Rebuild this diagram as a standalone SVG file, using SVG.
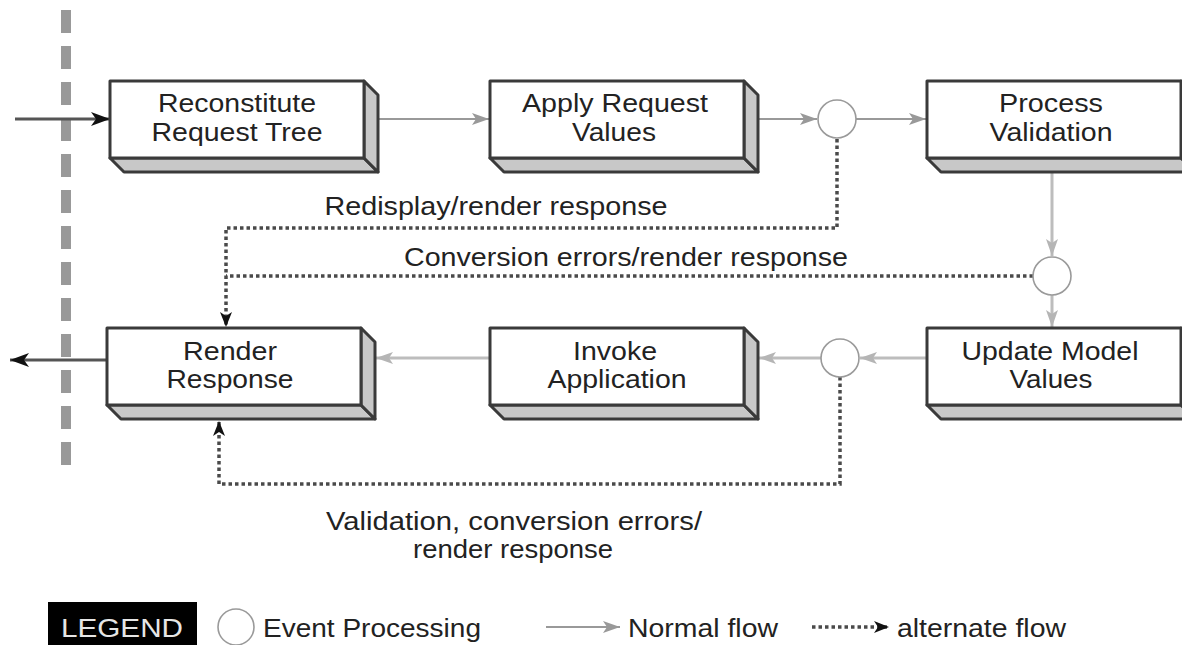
<svg xmlns="http://www.w3.org/2000/svg" width="1182" height="645" viewBox="0 0 1182 645">
<defs>
<style>
text{font-family:"Liberation Sans",Arial,Helvetica,sans-serif;font-size:25px;fill:#222}
.front{fill:#fff;stroke:#3a3a3a;stroke-width:3;stroke-linejoin:round}
.side{fill:#c8c8c8;stroke:#3a3a3a;stroke-width:3;stroke-linejoin:round}
.n1{stroke:#999;stroke-width:2;fill:none}
.n2{stroke:#bdbdbd;stroke-width:3;fill:none}
.dk{stroke:#555;stroke-width:3;fill:none}
.dot{stroke:#4a4a4a;stroke-width:3.5;stroke-dasharray:3.5 3;fill:none}
.ev{fill:#fff;stroke:#9a9a9a;stroke-width:1.6}
</style>
<marker id="ag" markerUnits="userSpaceOnUse" markerWidth="18" markerHeight="12" refX="17" refY="6" orient="auto"><path d="M0,0 L17,6 L0,12 L4,6 z" fill="#999"/></marker>
<marker id="ag2" markerUnits="userSpaceOnUse" markerWidth="18" markerHeight="12" refX="17" refY="6" orient="auto"><path d="M0,0 L17,6 L0,12 L4,6 z" fill="#b5b5b5"/></marker>
<marker id="ab" markerUnits="userSpaceOnUse" markerWidth="20" markerHeight="14" refX="19" refY="7" orient="auto"><path d="M0,0 L19,7 L0,14 L5,7 z" fill="#111"/></marker>
<marker id="ad" markerUnits="userSpaceOnUse" markerWidth="16" markerHeight="12" refX="15" refY="6" orient="auto"><path d="M0,0 L15,6 L0,12 L4,6 z" fill="#111"/></marker>
</defs>
<rect width="1182" height="645" fill="#fff"/>
<line x1="66" y1="10" x2="66" y2="466" stroke="#999" stroke-width="10" stroke-dasharray="23 13"/>

<g id="connectors">
<line class="dk" x1="15" y1="119" x2="110" y2="119" marker-end="url(#ab)"/>
<line class="n1" x1="378" y1="119" x2="489" y2="119" marker-end="url(#ag)"/>
<line class="n1" x1="758" y1="119" x2="817" y2="119" marker-end="url(#ag)"/>
<line class="n1" x1="856" y1="119" x2="926" y2="119" marker-end="url(#ag)"/>
<line class="n2" x1="1052" y1="172" x2="1052" y2="256" marker-end="url(#ag2)"/>
<line class="n2" x1="1052" y1="295" x2="1052" y2="327" marker-end="url(#ag2)"/>
<line class="n2" x1="927" y1="358" x2="860" y2="358" marker-end="url(#ag2)"/>
<line class="n2" x1="821" y1="358" x2="759" y2="358" marker-end="url(#ag2)"/>
<line class="n2" x1="490" y1="358" x2="376" y2="358" marker-end="url(#ag2)"/>
<line class="dk" x1="107" y1="360" x2="10" y2="360" marker-end="url(#ab)"/>
<path class="dot" d="M837,139 V228 H226 V327" marker-end="url(#ad)"/>
<path class="dot" d="M1033,276 H226"/>
<path class="dot" d="M840,377 V484 H219 V421" marker-end="url(#ad)"/>
</g>

<g id="node-reconstitute">
<polygon class="side" points="110,158 364,158 378,172 124,172"/>
<polygon class="side" points="364,81 378,95 378,172 364,158"/>
<rect class="front" x="110" y="81" width="254" height="77"/>
<text x="237" y="112" text-anchor="middle" textLength="158" lengthAdjust="spacingAndGlyphs">Reconstitute</text>
<text x="237" y="141" text-anchor="middle" textLength="171" lengthAdjust="spacingAndGlyphs">Request Tree</text>
</g>
<g id="node-apply">
<polygon class="side" points="490,158 744,158 758,172 504,172"/>
<polygon class="side" points="744,81 758,95 758,172 744,158"/>
<rect class="front" x="490" y="81" width="254" height="77"/>
<text x="615" y="112" text-anchor="middle" textLength="186" lengthAdjust="spacingAndGlyphs">Apply Request</text>
<text x="614" y="141" text-anchor="middle" textLength="84" lengthAdjust="spacingAndGlyphs">Values</text>
</g>
<g id="node-process">
<polygon class="side" points="927,158 1181,158 1195,172 941,172"/>
<polygon class="side" points="1181,81 1195,95 1195,172 1181,158"/>
<rect class="front" x="927" y="81" width="254" height="77"/>
<text x="1051" y="112" text-anchor="middle" textLength="104" lengthAdjust="spacingAndGlyphs">Process</text>
<text x="1051" y="141" text-anchor="middle" textLength="123" lengthAdjust="spacingAndGlyphs">Validation</text>
</g>
<g id="node-render">
<polygon class="side" points="107,405 361,405 375,419 121,419"/>
<polygon class="side" points="361,328 375,342 375,419 361,405"/>
<rect class="front" x="107" y="328" width="254" height="77"/>
<text x="230" y="360" text-anchor="middle" textLength="94" lengthAdjust="spacingAndGlyphs">Render</text>
<text x="230" y="388" text-anchor="middle" textLength="127" lengthAdjust="spacingAndGlyphs">Response</text>
</g>
<g id="node-invoke">
<polygon class="side" points="490,405 744,405 758,419 504,419"/>
<polygon class="side" points="744,328 758,342 758,419 744,405"/>
<rect class="front" x="490" y="328" width="254" height="77"/>
<text x="615" y="360" text-anchor="middle" textLength="84" lengthAdjust="spacingAndGlyphs">Invoke</text>
<text x="617" y="388" text-anchor="middle" textLength="139" lengthAdjust="spacingAndGlyphs">Application</text>
</g>
<g id="node-update">
<polygon class="side" points="927,405 1181,405 1195,419 941,419"/>
<polygon class="side" points="1181,328 1195,342 1195,419 1181,405"/>
<rect class="front" x="927" y="328" width="254" height="77"/>
<text x="1050" y="360" text-anchor="middle" textLength="177" lengthAdjust="spacingAndGlyphs">Update Model</text>
<text x="1051" y="388" text-anchor="middle" textLength="83" lengthAdjust="spacingAndGlyphs">Values</text>
</g>
<g id="event-1"><circle class="ev" cx="837" cy="119" r="19"/></g>
<g id="event-2"><circle class="ev" cx="1052" cy="276" r="19"/></g>
<g id="event-3"><circle class="ev" cx="840" cy="358" r="19"/></g>

<g id="labels">
<text x="496" y="215" text-anchor="middle" textLength="343" lengthAdjust="spacingAndGlyphs">Redisplay/render response</text>
<text x="626" y="266" text-anchor="middle" textLength="444" lengthAdjust="spacingAndGlyphs">Conversion errors/render response</text>
<text x="514" y="530" text-anchor="middle" textLength="376" lengthAdjust="spacingAndGlyphs">Validation, conversion errors/</text>
<text x="513" y="558" text-anchor="middle" textLength="200" lengthAdjust="spacingAndGlyphs">render response</text>
</g>

<g id="legend">
<rect x="48" y="602" width="149" height="43" fill="#000"/>
<text x="122" y="637" text-anchor="middle" style="fill:#e6e6e6" textLength="122" lengthAdjust="spacingAndGlyphs">LEGEND</text>
<circle class="ev" cx="236" cy="627" r="18"/>
<text x="263" y="637" textLength="218" lengthAdjust="spacingAndGlyphs">Event Processing</text>
<line class="n1" x1="546" y1="627" x2="620" y2="627" marker-end="url(#ag)"/>
<text x="628" y="637" textLength="150" lengthAdjust="spacingAndGlyphs">Normal flow</text>
<line class="dot" x1="812" y1="627" x2="889" y2="627" marker-end="url(#ad)"/>
<text x="897" y="637" textLength="169" lengthAdjust="spacingAndGlyphs">alternate flow</text>
</g>
</svg>
